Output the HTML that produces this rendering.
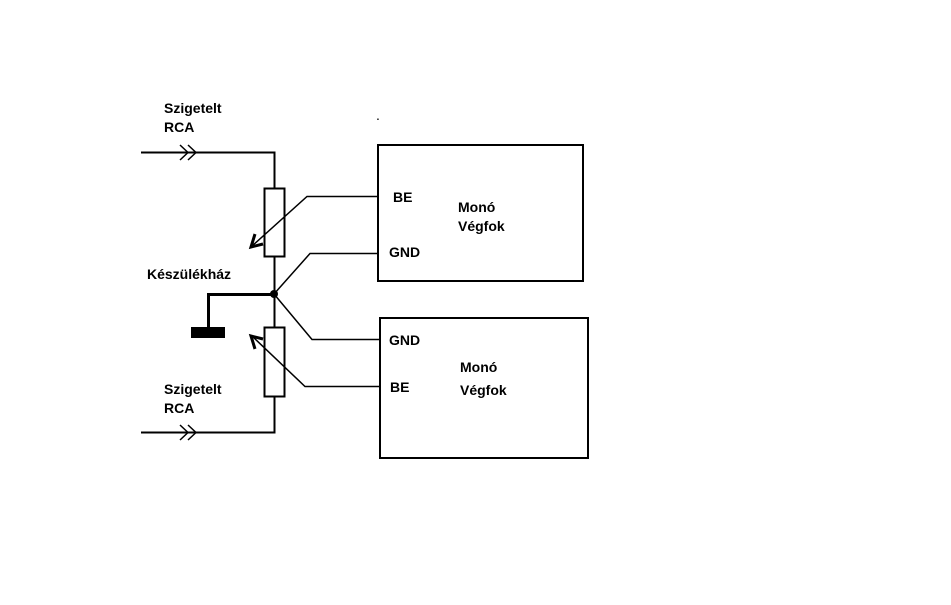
<!DOCTYPE html>
<html><head><meta charset="utf-8"><style>
html,body{margin:0;padding:0;background:#fff;}
svg text{font-family:"Liberation Sans",sans-serif;font-size:14px;fill:#000;}
</style></head><body>
<svg width="951" height="600" viewBox="0 0 951 600" xmlns="http://www.w3.org/2000/svg">
<g fill="none" stroke="#000">
<path d="M141 152.5H274.5V188" stroke-width="2"/>
<path d="M180 145l8 7.5-8 7.5M188 145l8 7.5-8 7.5" stroke-width="1.5"/>
<rect x="264.5" y="188.5" width="20" height="68" stroke-width="2"/>
<path d="M274.5 256V327" stroke-width="2"/>
<rect x="264.5" y="327.5" width="20" height="69" stroke-width="2"/>
<path d="M274.5 396V432.5H141" stroke-width="2"/>
<path d="M180 425l8 7.5-8 7.5M188 425l8 7.5-8 7.5" stroke-width="1.5"/>
<path d="M274 294.5H208.5V330" stroke-width="3"/>
<rect x="191" y="327" width="34" height="11" fill="#000" stroke="none"/>
<circle cx="274" cy="294" r="4" fill="#000" stroke="none"/>
<path d="M378 196.5H307L252 246" stroke-width="1.5"/>
<path d="M255 234L251 247L263 244" stroke-width="3"/>
<path d="M378 253.5H310L274 294" stroke-width="1.5"/>
<path d="M274 294L312 339.5H380" stroke-width="1.5"/>
<path d="M380 386.5H305L252 336" stroke-width="1.5"/>
<path d="M255 349L251 336L263 339" stroke-width="3"/>
<rect x="378" y="145" width="205" height="136" stroke-width="2"/>
<rect x="380" y="318" width="208" height="140" stroke-width="2"/>
</g>
<text x="376" y="120" font-size="3">.</text>
<g font-weight="bold">
<text x="164" y="113">Szigetelt</text>
<text x="164" y="132">RCA</text>
<text x="164" y="394">Szigetelt</text>
<text x="164" y="413">RCA</text>
<text x="147" y="279">Készülékház</text>
<text x="393" y="202">BE</text>
<text x="389" y="257">GND</text>
<text x="458" y="212">Monó</text>
<text x="458" y="231">Végfok</text>
<text x="389" y="345">GND</text>
<text x="390" y="392">BE</text>
<text x="460" y="372">Monó</text>
<text x="460" y="395">Végfok</text>
</g>
</svg>
</body></html>
